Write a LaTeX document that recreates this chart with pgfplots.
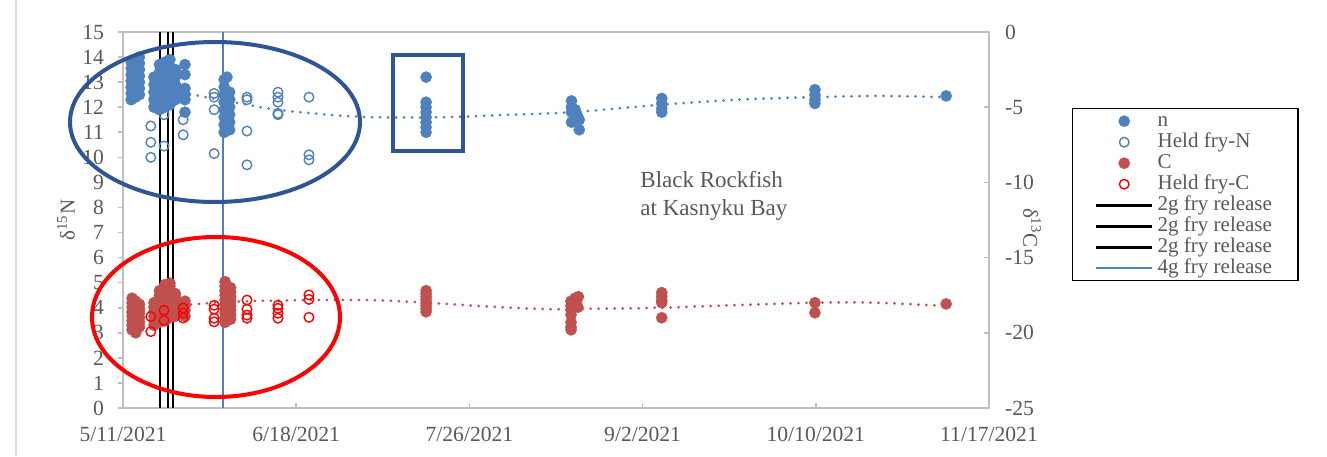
\documentclass[border=0pt]{standalone}
\usepackage{pgfplots}
\pgfplotsset{compat=1.18}
\usepackage{fontspec}
\setmainfont{Liberation Serif}
\definecolor{nblue}{RGB}{79,129,189}
\definecolor{cred}{RGB}{192,80,77}
\definecolor{dblue}{RGB}{47,85,151}
\definecolor{axgray}{RGB}{191,191,191}
\definecolor{txtgray}{RGB}{89,89,89}
\pgfplotsset{
  filln/.style={only marks, mark=*, mark size=2.8pt, mark options={draw=nblue, fill=nblue, line width=0.2pt}},
  openn/.style={only marks, mark=o, mark size=2.4pt, mark options={draw=nblue, line width=0.7pt}},
  fillc/.style={only marks, mark=*, mark size=2.8pt, mark options={draw=cred, fill=cred, line width=0.2pt}},
  openc/.style={only marks, mark=o, mark size=2.4pt, mark options={draw=red, line width=0.7pt}},
  trend/.style={smooth, no marks, line width=1.5pt, line cap=round, dash pattern=on 0pt off 4pt, #1},
  common/.style={at={(61.5pt,24pt)}, anchor=south west, scale only axis, width=433pt, height=188pt,
    xmin=0, xmax=190, clip=false,
    ticklabel style={font=\fontsize{10.8}{12}\selectfont, text=txtgray},
    /pgf/number format/assume math mode=true,
    major tick length=2.5pt,
    tick style={axgray, line width=0.8pt},
    axis line style={axgray, line width=1pt},
    legend image code/.code={\draw[mark repeat=2,mark phase=2,##1] plot coordinates {(0pt,0pt) (14pt,0pt) (28pt,0pt)};}},
}
\begin{document}
\begin{tikzpicture}
\useasboundingbox (0,0) rectangle (663.5pt,228pt);
\draw[color={rgb,255:red,217;green,217;blue,217}, line width=0.8pt] (8pt,0pt) -- (8pt,228pt);
% ---------- left axis: delta 15N ----------
\begin{axis}[common,
  ymin=0, ymax=15,
  xtick={0,38,76,114,152,190},
  xticklabels={5/11/2021,6/18/2021,7/26/2021,9/2/2021,10/10/2021,11/17/2021},
  ytick={0,1,...,15},
  xtick pos=bottom, ytick pos=left,
  xtick align=inside, ytick align=outside,
  xticklabel style={yshift=-6pt},
  yticklabel style={xshift=-3.5pt},
  ylabel={δ\textsuperscript{15}N},
  ylabel style={at={(axis description cs:-0.0658,0.5)}, anchor=center, font=\fontsize{10.5}{12}\selectfont, text=txtgray},
]
\addplot[filln] coordinates {
(1.8,12.3)(1.8,12.55)(1.8,12.8)(1.8,13.05)(1.8,13.3)(1.8,13.55)(1.8,13.8)
(2.7,12.4)(2.7,12.65)(2.7,12.9)(2.7,13.15)(2.7,13.4)(2.7,13.65)(2.7,13.9)
(3.6,12.5)(3.6,12.75)(3.6,13.0)(3.6,13.25)(3.6,13.5)(3.6,13.75)(3.6,14.0)
(6.8,12.0)(6.8,12.3)(6.8,12.6)(6.8,12.9)(6.8,13.2)
(8.0,11.9)(8.0,12.2)(8.0,12.5)(8.0,12.8)(8.0,13.1)(8.0,13.4)(8.0,13.7)
(9.2,12.0)(9.2,12.3)(9.2,12.6)(9.2,12.9)(9.2,13.2)(9.2,13.5)(9.2,13.8)
(10.3,12.1)(10.3,12.4)(10.3,12.7)(10.3,13.0)(10.3,13.3)(10.3,13.6)(10.3,13.9)
(11.5,12.3)(11.5,12.6)(11.5,12.9)(11.5,13.2)(11.5,13.5)
(13.6,11.8)(13.6,12.3)(13.6,12.5)(13.6,12.75)(13.6,13.3)(13.6,13.7)
(22.2,11.0)(22.2,11.3)(22.2,11.6)(22.2,11.9)(22.2,12.2)(22.2,12.5)(22.2,12.8)(22.2,13.1)
(23.4,11.1)(23.4,11.4)(23.4,11.7)(23.4,12.0)(23.4,12.3)(23.4,12.6)(22.8,13.2)
(66.5,13.2)(66.5,12.2)(66.5,12.0)(66.5,11.8)(66.5,11.6)(66.5,11.4)(66.5,11.2)(66.5,11.0)
(98.4,12.25)(98.4,12.0)(98.4,11.8)(99.2,11.9)(99.6,11.7)(98.4,11.4)(100.1,11.5)(100.1,11.1)
(118.2,12.35)(118.2,12.15)(118.2,11.95)(118.2,11.8)
(151.8,12.7)(151.8,12.5)(151.8,12.3)(151.8,12.15)
(180.6,12.45)
};
\addplot[openn] coordinates {
(6.1,11.25)(6.1,10.6)(6.1,10.0)
(9.0,10.45)(9.0,11.7)
(13.2,11.5)(13.2,10.9)
(20,12.55)(20,12.4)(20,11.9)(20,10.15)
(27.2,12.4)(27.2,12.3)(27.2,11.05)(27.2,9.7)
(34,12.6)(34,12.4)(34,12.2)(34,11.75)(34,11.7)
(40.8,12.4)(40.8,10.1)(40.8,9.9)
};
\addplot[trend=nblue] coordinates {
(1,13.1)(3,13.0)(10.3,12.75)(15.4,12.5)(25.7,12.15)(33.8,11.9)(45,11.7)(55,11.6)(70,11.6)(85,11.7)(98.5,11.8)(118,12.1)(135,12.3)(151.8,12.4)(166,12.45)(180.6,12.4)
};
\addplot[black, line width=1.2pt] coordinates {(8.1,0)(8.1,15)};
\addplot[black, line width=1.2pt] coordinates {(9.9,0)(9.9,15)};
\addplot[black, line width=1.2pt] coordinates {(11.0,0)(11.0,15)};
\addplot[nblue, line width=1pt] coordinates {(21.9,0)(21.9,15)};
\end{axis}
% ---------- right axis: delta 13C ----------
\begin{axis}[common,
  ymin=-25, ymax=0,
  axis x line=none, axis y line*=right,
  ytick={-25,-20,...,0},
  ytick align=inside,
  yticklabel style={xshift=4.5pt},
  ylabel={δ\textsuperscript{13}C},
  ylabel style={at={(axis description cs:1.0497,0.479)}, anchor=center, rotate=180, font=\fontsize{10.5}{12}\selectfont, text=txtgray},
  legend style={at={(1.0958,0.798)}, anchor=north west, draw=black, line width=0.75pt, fill=white,
    inner xsep=11pt, inner ysep=1pt, font=\fontsize{10.5}{10.5}\selectfont, text=txtgray,
    nodes={text height=7.2pt, text depth=2.3pt, inner ysep=0.5pt, inner xsep=2pt}, row sep=0pt},
  legend cell align=left,
]
\addlegendimage{filln}
\addlegendentry{n}
\addlegendimage{openn}
\addlegendentry{Held fry-N}
\addplot[fillc] coordinates {
(2,-19.8)(2,-19.5)(2,-19.2)(2,-18.9)(2,-18.6)(2,-18.3)(2,-18.0)(2,-17.7)
(2.8,-20.0)(2.8,-19.7)(2.8,-19.4)(2.8,-19.1)(2.8,-18.8)(2.8,-18.5)(2.8,-18.2)(2.8,-17.9)
(3.6,-19.6)(3.6,-19.3)(3.6,-19.0)(3.6,-18.7)(3.6,-18.4)(3.6,-18.1)
(6.8,-19.5)(6.8,-19.2)(6.8,-18.9)(6.8,-18.6)(6.8,-18.3)(6.8,-18.0)
(8.0,-19.3)(8.0,-19.0)(8.0,-18.7)(8.0,-18.4)(8.0,-18.1)(8.0,-17.8)(8.0,-17.5)(8.0,-17.2)
(9.2,-19.2)(9.2,-18.9)(9.2,-18.6)(9.2,-18.3)(9.2,-18.0)(9.2,-17.7)(9.2,-17.4)(9.2,-17.1)(9.2,-16.8)
(10.3,-19.0)(10.3,-18.7)(10.3,-18.4)(10.3,-18.1)(10.3,-17.8)(10.3,-17.5)(10.3,-17.2)(10.3,-16.9)(10.3,-16.7)
(11.5,-18.9)(11.5,-18.6)(11.5,-18.3)(11.5,-18.0)(11.5,-17.7)(11.5,-17.4)
(13.6,-18.9)(13.6,-18.5)(13.6,-18.2)(13.6,-17.9)
(22.4,-19.3)(22.4,-19.0)(22.4,-18.7)(22.4,-18.4)(22.4,-18.1)(22.4,-17.8)(22.4,-17.5)(22.4,-17.2)(22.4,-16.9)(22.4,-16.6)
(23.6,-19.1)(23.6,-18.8)(23.6,-18.5)(23.6,-18.2)(23.6,-17.9)(23.6,-17.6)(23.6,-17.3)(23.6,-17.0)
(66.5,-18.6)(66.5,-18.4)(66.5,-18.2)(66.5,-18.0)(66.5,-17.8)(66.5,-17.6)(66.5,-17.4)(66.5,-17.2)
(98.3,-17.9)(98.3,-18.2)(98.3,-18.5)(98.3,-18.8)(99.2,-17.7)(99.5,-18.0)(99.8,-18.3)(99.9,-17.6)
(98.3,-19.3)(98.3,-19.6)(98.3,-19.8)
(118.2,-17.33)(118.2,-17.58)(118.2,-17.83)(118.2,-18.0)(118.2,-19.0)
(151.8,-18.0)(151.8,-18.67)
(180.6,-18.08)
};
\addlegendentry{C}
\addplot[openc] coordinates {
(6.1,-18.92)(6.1,-19.92)
(9.0,-18.5)(9.0,-19.17)
(13.2,-18.35)(13.2,-18.68)(13.2,-19.02)
(20,-18.17)(20,-18.43)(20,-19.03)(20,-19.27)
(27.2,-17.82)(27.2,-18.43)(27.2,-18.82)(27.2,-19.03)
(34,-18.17)(34,-18.37)(34,-18.7)(34,-19.03)
(40.8,-17.48)(40.8,-17.78)(40.8,-18.97)
};
\addlegendentry{Held fry-C}
\addplot[trend=cred, forget plot] coordinates {
(1,-18.67)(8,-18.42)(13,-18.17)(25,-17.92)(40,-17.83)(55,-17.83)(66.5,-18.0)(80,-18.25)(92,-18.42)(99,-18.42)(118,-18.33)(135,-18.15)(152,-18.0)(165,-18.0)(180.6,-18.22)
};
\addlegendimage{black, line width=1.5pt}
\addlegendentry{2g fry release}
\addlegendimage{black, line width=1.5pt}
\addlegendentry{2g fry release}
\addlegendimage{black, line width=1.5pt}
\addlegendentry{2g fry release}
\addlegendimage{nblue, line width=1pt}
\addlegendentry{4g fry release}
\end{axis}
% ---------- annotations ----------
\draw[dblue, line width=2pt] (107.5pt,167pt) ellipse [x radius=72.5pt, y radius=40pt];
\draw[red, line width=2pt] (108pt,69.5pt) ellipse [x radius=62pt, y radius=40pt];
\draw[dblue, line width=1.75pt] (196.5pt,200.5pt) rectangle (231.5pt,152.5pt);
\node[anchor=west, align=left, text=txtgray, font=\fontsize{11.5}{14}\selectfont, inner sep=0pt] at (320pt,130pt) {Black Rockfish\\at Kasnyku Bay};
\end{tikzpicture}
\end{document}
